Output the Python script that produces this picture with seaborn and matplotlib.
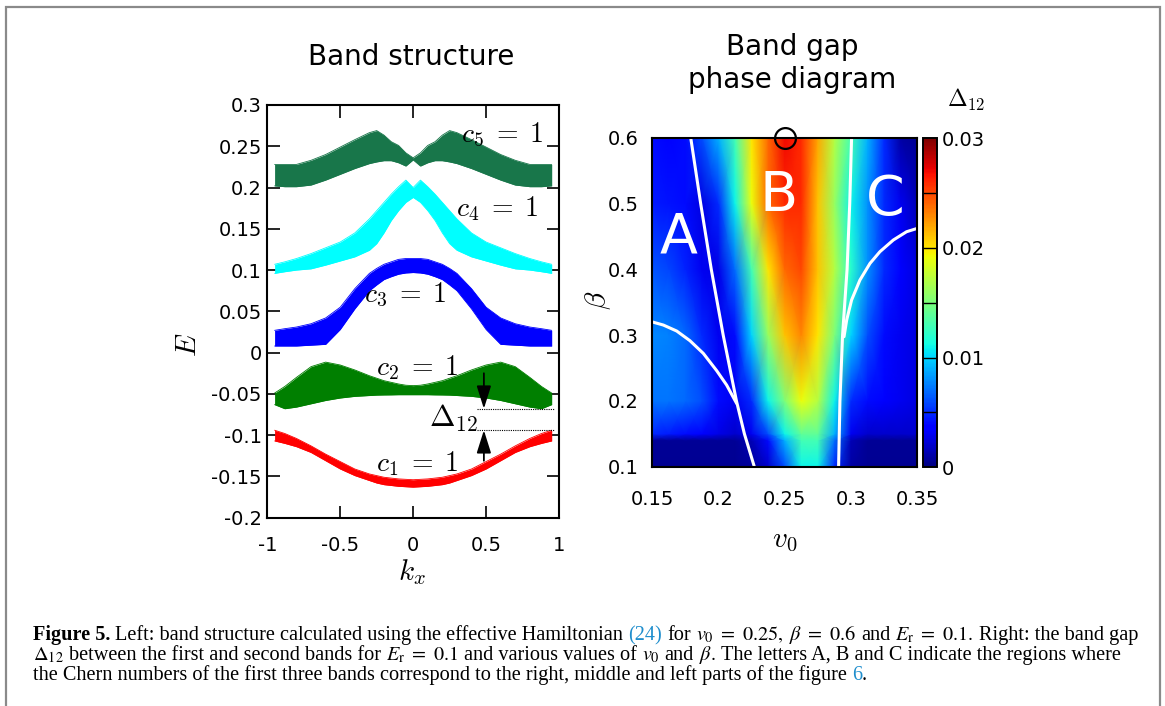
import numpy as np
import matplotlib
matplotlib.use("Agg")
import matplotlib.pyplot as plt
import matplotlib.transforms as mtransforms
from matplotlib.patches import Rectangle
import seaborn as sns

sns.set_style("ticks")
plt.rcParams["font.family"] = ["DejaVu Sans"]
plt.rcParams["mathtext.fontset"] = "cm"
for key in ["text.color", "axes.labelcolor", "xtick.color", "ytick.color", "axes.edgecolor"]:
    plt.rcParams[key] = "black"

# ---------------- band structure (left) ----------------
kx = [-0.95, -0.88, -0.8, -0.7, -0.6, -0.5, -0.4, -0.3, -0.25, -0.2, -0.15, -0.1, -0.05, 0.0,
      0.05, 0.1, 0.15, 0.2, 0.25, 0.3, 0.4, 0.5, 0.6, 0.7, 0.8, 0.88, 0.95]

b1_hi = [-0.094, -0.098, -0.104, -0.113, -0.123, -0.132, -0.141, -0.147, -0.149, -0.151, -0.152, -0.153, -0.1535, -0.154,
         -0.1535, -0.153, -0.152, -0.151, -0.149, -0.147, -0.141, -0.132, -0.123, -0.113, -0.104, -0.098, -0.094]
b1_lo = [-0.107, -0.110, -0.114, -0.121, -0.131, -0.141, -0.149, -0.155, -0.158, -0.160, -0.161, -0.162, -0.1625, -0.163,
         -0.1625, -0.162, -0.161, -0.160, -0.158, -0.155, -0.149, -0.141, -0.131, -0.121, -0.114, -0.110, -0.107]

b2_hi = [-0.049, -0.041, -0.030, -0.017, -0.0115, -0.015, -0.021, -0.028, -0.031, -0.034, -0.036, -0.038, -0.0395, -0.040,
         -0.0395, -0.038, -0.036, -0.034, -0.031, -0.028, -0.021, -0.015, -0.0115, -0.017, -0.030, -0.041, -0.049]
b2_lo = [-0.063, -0.068, -0.066, -0.062, -0.058, -0.055, -0.053, -0.052, -0.0515, -0.0513, -0.0512, -0.051, -0.051, -0.051,
         -0.051, -0.051, -0.0512, -0.0513, -0.0515, -0.052, -0.053, -0.055, -0.058, -0.062, -0.066, -0.068, -0.063]

b3_hi = [0.027, 0.029, 0.031, 0.035, 0.042, 0.055, 0.0775, 0.096, 0.102, 0.107, 0.110, 0.113, 0.114, 0.114,
         0.114, 0.113, 0.110, 0.107, 0.102, 0.096, 0.0775, 0.055, 0.042, 0.035, 0.031, 0.029, 0.027]
b3_lo = [0.008, 0.008, 0.008, 0.009, 0.010, 0.028, 0.053, 0.075, 0.082, 0.0885, 0.092, 0.095, 0.0965, 0.097,
         0.0965, 0.095, 0.092, 0.0885, 0.082, 0.075, 0.053, 0.028, 0.010, 0.009, 0.008, 0.008, 0.008]

b4_hi = [0.107, 0.110, 0.114, 0.120, 0.127, 0.134, 0.145, 0.162, 0.172, 0.182, 0.192, 0.201, 0.209, 0.200,
         0.209, 0.201, 0.192, 0.182, 0.172, 0.162, 0.145, 0.134, 0.127, 0.120, 0.114, 0.110, 0.107]
b4_lo = [0.096, 0.098, 0.100, 0.1015, 0.106, 0.111, 0.116, 0.124, 0.132, 0.145, 0.160, 0.172, 0.182, 0.188,
         0.182, 0.172, 0.160, 0.145, 0.132, 0.124, 0.116, 0.111, 0.106, 0.1015, 0.100, 0.098, 0.096]

b5_hi = [0.228, 0.228, 0.228, 0.233, 0.240, 0.249, 0.258, 0.2665, 0.269, 0.2635, 0.2555, 0.251, 0.242, 0.236,
         0.242, 0.251, 0.2555, 0.2635, 0.269, 0.2665, 0.258, 0.249, 0.240, 0.233, 0.228, 0.228, 0.228]
b5_lo = [0.202, 0.201, 0.201, 0.203, 0.209, 0.216, 0.223, 0.229, 0.231, 0.2325, 0.2325, 0.230, 0.226, 0.2335,
         0.226, 0.230, 0.2325, 0.2325, 0.231, 0.229, 0.223, 0.216, 0.209, 0.203, 0.201, 0.201, 0.202]

bands = [(b1_lo, b1_hi, "#ff0000", r"$c_1\;=\;1$", (0.03, -0.134)),
         (b2_lo, b2_hi, "#007f00", r"$c_2\;=\;1$", (0.03, -0.0186)),
         (b3_lo, b3_hi, "#0000ff", r"$c_3\;=\;1$", (-0.056, 0.0698)),
         (b4_lo, b4_hi, "#00ffff", r"$c_4\;=\;1$", (0.575, 0.174)),
         (b5_lo, b5_hi, "#18764a", r"$c_5\;=\;1$", (0.609, 0.2637))]

# ---------------- band gap phase diagram (right) ----------------
v0_grid = [0.15, 0.1625, 0.175, 0.1875, 0.20, 0.2125, 0.225, 0.2375, 0.25,
           0.2625, 0.275, 0.2875, 0.30, 0.3125, 0.325, 0.3375, 0.35]
beta_grid = [0.1, 0.14, 0.15, 0.2, 0.3, 0.4, 0.5, 0.6]
gap_b010 = [0.0005, 0.0005, 0.0005, 0.0005, 0.0005, 0.0005, 0.0008, 0.002, 0.006, 0.011, 0.011, 0.005, 0.001, 0.0005, 0.0005, 0.0005, 0.0005]
gap_b014 = [0.0006, 0.0006, 0.0006, 0.0006, 0.0006, 0.0007, 0.0015, 0.004, 0.009, 0.013, 0.013, 0.007, 0.0015, 0.0007, 0.0006, 0.0006, 0.0006]
gap_b015 = [0.005, 0.0045, 0.004, 0.0035, 0.0028, 0.002, 0.003, 0.006, 0.011, 0.014, 0.014, 0.009, 0.003, 0.002, 0.002, 0.002, 0.002]
gap_b020 = [0.0072, 0.0072, 0.0068, 0.006, 0.004, 0.003, 0.005, 0.011, 0.015, 0.019, 0.017, 0.011, 0.005, 0.004, 0.0035, 0.003, 0.0025]
gap_b030 = [0.0078, 0.0076, 0.0068, 0.005, 0.003, 0.004, 0.010, 0.016, 0.021, 0.023, 0.020, 0.015, 0.010, 0.006, 0.004, 0.003, 0.0025]
gap_b040 = [0.0063, 0.0058, 0.0048, 0.003, 0.0028, 0.007, 0.013, 0.020, 0.024, 0.025, 0.021, 0.017, 0.012, 0.008, 0.005, 0.0035, 0.0025]
gap_b050 = [0.0045, 0.0043, 0.004, 0.0026, 0.005, 0.011, 0.019, 0.024, 0.026, 0.026, 0.021, 0.016, 0.011, 0.008, 0.005, 0.003, 0.0015]
gap_b060 = [0.004, 0.0038, 0.004, 0.006, 0.009, 0.013, 0.020, 0.024, 0.027, 0.026, 0.022, 0.017, 0.013, 0.009, 0.005, 0.001, 0.0005]
gap_rows = [gap_b010, gap_b014, gap_b015, gap_b020, gap_b030, gap_b040, gap_b050, gap_b060]

# white phase boundaries
lineA_v0 = [0.179, 0.1865, 0.1945, 0.2035, 0.2135, 0.2195, 0.227]
lineA_beta = [0.6, 0.5, 0.4, 0.3, 0.2, 0.15, 0.1]
curveA_v0 = [0.15, 0.1583, 0.1684, 0.1784, 0.1885, 0.1986, 0.2061, 0.2136]
curveA_beta = [0.32, 0.3153, 0.3062, 0.2915, 0.2722, 0.2459, 0.2241, 0.1963]
lineC_v0 = [0.3004, 0.2990, 0.2970, 0.2936, 0.2916, 0.2906]
lineC_beta = [0.6, 0.5, 0.4, 0.3, 0.2, 0.1]
curveC_v0 = [0.35, 0.3419, 0.3319, 0.3218, 0.3143, 0.3067, 0.3004, 0.2967, 0.2947]
curveC_beta = [0.4622, 0.4571, 0.4445, 0.4268, 0.409, 0.3837, 0.3533, 0.3229, 0.2976]
marker_v0, marker_beta = 0.25, 0.6

# ---------------- figure ----------------
W, H = 1165, 706
fig = plt.figure(figsize=(W / 100, H / 100), dpi=100)

def px_axes(x0, y0, x1, y1):
    return fig.add_axes([x0 / W, 1 - y1 / H, (x1 - x0) / W, (y1 - y0) / H])

ax1 = px_axes(267.3, 105, 559, 517.7)
ax2 = px_axes(652.3, 137.7, 917.3, 466.7)
cax = px_axes(923.3, 138.3, 937.3, 467.3)

# left panel
for lo, hi, col, lab, pos in bands:
    ax1.fill_between(kx, lo, hi, color=col, lw=0, zorder=2)
    sns.lineplot(x=kx, y=hi, ax=ax1, color=col, lw=0.6, sort=False, zorder=2)
    sns.lineplot(x=kx, y=lo, ax=ax1, color=col, lw=0.6, sort=False, zorder=2)
    ax1.text(pos[0], pos[1], lab, fontsize=20, ha="center", va="center", zorder=5)

gap_top = min(b2_lo)
gap_bot = max(b1_hi)
ax1.plot([0.435, 0.965], [gap_top, gap_top], color="k", lw=0.8, ls=(0, (1, 1)), zorder=3, clip_on=False)
ax1.plot([0.435, 0.965], [gap_bot, gap_bot], color="k", lw=0.8, ls=(0, (1, 1)), zorder=3, clip_on=False)
arr = dict(arrowstyle="-|>,head_length=0.7,head_width=0.22", color="k", lw=1.3,
           mutation_scale=20, shrinkA=0, shrinkB=0)
ax1.annotate("", xy=(0.485, gap_top), xytext=(0.485, -0.025), arrowprops=arr)
ax1.annotate("", xy=(0.485, gap_bot), xytext=(0.485, -0.131), arrowprops=arr)
ax1.text(0.445, -0.080, r"$\Delta_{12}$", fontsize=22, ha="right", va="center")

ax1.set_xlim(-1, 1)
ax1.set_ylim(-0.2, 0.3)
yt = [-0.2, -0.15, -0.1, -0.05, 0, 0.05, 0.1, 0.15, 0.2, 0.25, 0.3]
ax1.set_yticks(yt)
ax1.set_yticklabels(["-0.2", "-0.15", "-0.1", "-0.05", "0", "0.05", "0.1", "0.15", "0.2", "0.25", "0.3"])
ax1.set_xticks([-1, -0.5, 0, 0.5, 1])
ax1.set_xticklabels(["-1", "-0.5", "0", "0.5", "1"])
ax1.tick_params(direction="in", top=True, right=True, length=9, width=1.2, labelsize=14)
ax1.tick_params(axis="y", pad=4)
ax1.tick_params(axis="x", pad=13)
ax1.text(-0.272, 0.4185, r"$E$", transform=ax1.transAxes, fontsize=21, rotation=90, ha="center", va="center")
ax1.text(0.496, -0.1316, r"$k_x$", transform=ax1.transAxes, fontsize=21, ha="center", va="center")

# right panel
V, B = np.meshgrid(v0_grid, beta_grid)
mesh = ax2.pcolormesh(V, B, np.array(gap_rows), shading="gouraud", cmap="jet", vmin=0, vmax=0.03, zorder=1)
for xs, ys in [(lineA_v0, lineA_beta), (curveA_v0, curveA_beta), (lineC_v0, lineC_beta), (curveC_v0, curveC_beta)]:
    sns.lineplot(x=xs, y=ys, ax=ax2, color="white", lw=2.2, sort=False, zorder=3)
ax2.plot([marker_v0], [marker_beta], marker="o", ms=15, mfc="none", mec="k", mew=1.6, clip_on=False, zorder=10)
for lab, (lx, ly) in zip(["A", "B", "C"], [(0.1701, 0.449), (0.2456, 0.511), (0.3256, 0.505)]):
    ax2.text(lx, ly, lab, color="white", fontsize=40, ha="center", va="center", zorder=4)
ax2.set_xlim(0.15, 0.35)
ax2.set_ylim(0.1, 0.6)
ax2.set_xticks([0.15, 0.2, 0.25, 0.3, 0.35])
ax2.set_xticklabels(["0.15", "0.2", "0.25", "0.3", "0.35"])
ax2.set_yticks([0.1, 0.2, 0.3, 0.4, 0.5, 0.6])
ax2.set_yticklabels(["0.1", "0.2", "0.3", "0.4", "0.5", "0.6"])
ax2.tick_params(direction="in", top=True, right=True, length=13, width=1.2, labelsize=14)
ax2.tick_params(axis="x", pad=17)
ax2.tick_params(axis="y", pad=10)
ax2.text(-0.205, 0.5067, r"$\beta$", transform=ax2.transAxes, fontsize=21, rotation=90, ha="center", va="center")
ax2.text(0.5008, -0.2228, r"$v_0$", transform=ax2.transAxes, fontsize=21, ha="center", va="center")

cb = fig.colorbar(mesh, cax=cax)
cb.set_ticks([0, 0.01, 0.02, 0.03])
cb.set_ticklabels(["0", "0.01", "0.02", "0.03"])
cax.tick_params(length=0, labelsize=14, pad=3)
for lev in [0.005, 0.01, 0.015, 0.02, 0.025]:
    cax.axhline(lev, color="k", lw=1.0)
cb.outline.set_linewidth(1.4)
fig.text(966 / W, 1 - 100 / H, r"$\Delta_{12}$", fontsize=17, ha="center", va="center")

for a in (ax1, ax2):
    for s in a.spines.values():
        s.set_linewidth(1.5)
        s.set_zorder(6)

# titles
fig.text(411 / W, 1 - 57 / H, "Band structure", fontsize=20, ha="center", va="center")
fig.text(792 / W, 1 - 63.5 / H, "Band gap\nphase diagram", fontsize=20, ha="center", va="center",
         linespacing=1.2)

# frame
fig.patches.append(Rectangle((6 / W, -0.05), (1160 - 6) / W, (H - 7) / H + 0.05,
                             transform=fig.transFigure, fill=False, edgecolor="#8a8a8a", lw=1.6))

# caption
LINK = "#1f8ecd"
cap1 = [("Figure 5.", "bold", "k"), " ", ("Left: band structure calculated using the effective Hamiltonian", "normal", "k"), " ",
        ("(24)", "normal", LINK), " ", ("for", "normal", "k"), " ", (r"$v_0\ =\ 0.25,$", "normal", "k"), " ",
        (r"$\beta\ =\ 0.6$", "normal", "k"), " ", ("and", "normal", "k"), " ", (r"$E_{\mathrm{r}}\ =\ 0.1.$", "normal", "k"), " ",
        ("Right: the band gap", "normal", "k")]
cap2 = [(r"$\Delta_{12}$", "normal", "k"), " ", ("between the first and second bands for", "normal", "k"), " ",
        (r"$E_{\mathrm{r}}\ =\ 0.1$", "normal", "k"), " ", ("and various values of", "normal", "k"), " ",
        (r"$v_0$", "normal", "k"), " ", ("and", "normal", "k"), " ", (r"$\beta.$", "normal", "k"), " ",
        ("The letters A, B and C indicate the regions where", "normal", "k")]
cap3 = [("the Chern numbers of the first three bands correspond to the right, middle and left parts of the figure", "normal", "k"),
        " ", ("6", "normal", LINK), (".", "normal", "k")]

renderer = fig.canvas.get_renderer()
ident = mtransforms.IdentityTransform()

def draw_line(pieces, x0, y0, size):
    x = x0
    made = []
    for p in pieces:
        if p == " ":
            x += 0.25 * size * 100 / 72
            continue
        s, wgt, col = p
        t = fig.text(x, y0, s, transform=ident, fontsize=size, family=["Liberation Serif", "DejaVu Serif"],
                     math_fontfamily="stix", fontweight=wgt, color=col, ha="left", va="baseline")
        x += t.get_window_extent(renderer).width
        made.append(t)
    return made, x

base = 12.5
tmp, xe = draw_line(cap1, 33, H - 641, base)
for t in tmp:
    t.remove()
size = base * (1144 - 33) / (xe - 33)
draw_line(cap1, 33, H - 640, size)
draw_line(cap2, 33, H - 660, size)
draw_line(cap3, 33, H - 680, size)

fig.savefig("out.png", dpi=100)
